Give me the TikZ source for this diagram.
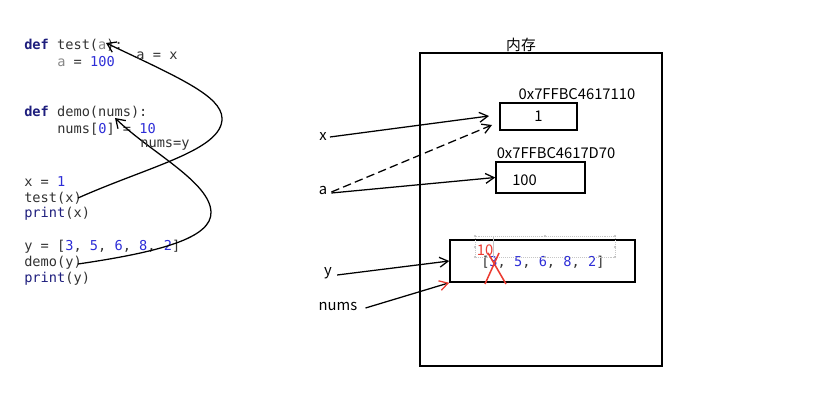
\documentclass[tikz,border=0pt]{standalone}
\usepackage{fontspec}
\setmainfont{Noto Sans CJK SC}
\newfontfamily\codefont{DejaVu Sans Mono}
\usetikzlibrary{arrows.meta,positioning,calc}
\definecolor{kwnavy}{RGB}{30,30,125}
\definecolor{numblue}{RGB}{45,45,215}
\definecolor{codegray}{RGB}{50,50,50}
\definecolor{argray}{RGB}{135,135,135}
\definecolor{markred}{RGB}{235,60,50}
\tikzset{
  codeline/.style={anchor=west,inner sep=0pt,font=\codefont\fontsize{9.7}{11}\selectfont,text=codegray},
  lbl/.style={inner sep=0pt,font=\fontsize{10.5}{12}\selectfont},
  membox/.style={draw,line width=1.1pt,inner sep=0pt},
  cellbox/.style={draw,line width=1.1pt,inner sep=0pt,font=\fontsize{10.5}{12}\selectfont},
  arr/.style={-{Straight Barb[length=6pt,width=7pt]},line width=0.9pt},
  dasharr/.style={arr,dash pattern=on 6pt off 3pt},
  curvearr/.style={-{Straight Barb[length=6pt,width=8pt]},line width=0.9pt},
  redmark/.style={markred,line width=1.1pt}
}
\newcommand{\kw}[1]{\textcolor{kwnavy}{\textbf{#1}}}
\newcommand{\num}[1]{\textcolor{numblue}{#1}}
\newcommand{\fn}[1]{\textcolor{kwnavy}{#1}}

\begin{document}
\begin{tikzpicture}[x=0.025cm,y=-0.025cm]
  \useasboundingbox (0,0) rectangle (831,419);

  %% code on the left
  \node[codeline] (deftest) at (24,45) {\kw{def} test(\textcolor{argray}{a}):};
  \node[codeline] (abody) at (57,62) {\textcolor{argray}{a} = \num{100}};
  \node[codeline] (defdemo) at (24,112) {\kw{def} demo(nums):};
  \node[codeline] (numsbody) at (57,129) {nums[\num{0}] = \num{10}};
  \node[codeline] (xassign) at (24,182) {x = \num{1}};
  \node[codeline] (testcall) at (24,198) {test(x)};
  \node[codeline] (printx) at (24,214) {\fn{print}(x)};
  \node[codeline] (yassign) at (24,247) {y = [\num{3}, \num{5}, \num{6}, \num{8}, \num{2}]};
  \node[codeline] (democall) at (24,263) {demo(y)};
  \node[codeline] (printy) at (24,279) {\fn{print}(y)};

  %% passing arguments
  \coordinate (xarg) at (78,198);
  \coordinate (aparam) at (106,43);
  \coordinate (yarg) at (78,264);
  \coordinate (numsparam) at (115,118);
  \draw[curvearr] (xarg) .. controls (150,166) and (223,150) .. (222,118)
    .. controls (221,96) and (180,78) .. (aparam);
  \draw[curvearr] (yarg) .. controls (160,252) and (212,238) .. (211,212)
    .. controls (210,182) and (150,152) .. (numsparam);
  \node[lbl,font=\codefont\fontsize{9.7}{11}\selectfont,text=codegray] (ax) at (157,56) {a = x};
  \node[lbl,font=\codefont\fontsize{9.7}{11}\selectfont,text=codegray] (numsy) at (165,145) {nums=y};

  %% memory
  \node[membox,minimum width=242*0.025cm,minimum height=313*0.025cm] (mem) at (541,209.5) {};
  \node[lbl] (memlbl) at (521,45) {内存};

  \node[cellbox,minimum width=77*0.025cm,minimum height=27*0.025cm] (one) at (538.5,116.5) {1};
  \node[lbl] (addr1) at (577,94) {0x7FFBC4617110};
  \node[cellbox,minimum width=89*0.025cm,minimum height=31*0.025cm] (hundred) at (540.5,177.5) {};
  \node[lbl,anchor=west] (hundredtxt) at (512,180) {100};
  \node[lbl] (addr2) at (556,153) {0x7FFBC4617D70};

  \node[cellbox,minimum width=185*0.025cm,minimum height=42*0.025cm] (list) at (542.5,261) {};
  \node[codeline] (listtxt) at (481,262) {[\num{3}, \num{5}, \num{6}, \num{8}, \num{2}]};

  %% edit marks on the list
  \draw[gray!45,densely dotted] (475,236) rectangle (615,257);
  \draw[gray!45] (493,236) -- (493,257);
  \foreach \px/\py in {475/236,545/236,615/236,475/247,615/247,475/257,545/257,615/257}
    \fill[gray!55] (\px,\py) circle (1.2);
  \node[lbl,text=markred] (ten) at (485,250) {10};
  \draw[redmark] (488,253) -- (506,284);
  \draw[redmark] (499,253) -- (485,284);

  %% names
  \node[lbl] (x) at (323,136) {x};
  \node[lbl] (a) at (323,190) {a};
  \node[lbl] (y) at (328,273) {y};
  \node[lbl] (nums) at (338,306) {nums};

  \coordinate (xend) at (489,116);
  \coordinate (aend) at (492,125);
  \draw[arr] (x.east) ++(3,1) -- (xend);
  \draw[dasharr] (a.east) ++(4,2) -- (aend);
  \draw[arr] (a.east) ++(4,3) -- (hundred.west);
  \draw[arr] (y.east) ++(5,2) -- (list.west);
  \draw[-{Straight Barb[length=6pt,width=7pt,color=markred]},line width=0.9pt]
    (nums.east) ++(8,2) -- (list.south west);
\end{tikzpicture}
\end{document}
